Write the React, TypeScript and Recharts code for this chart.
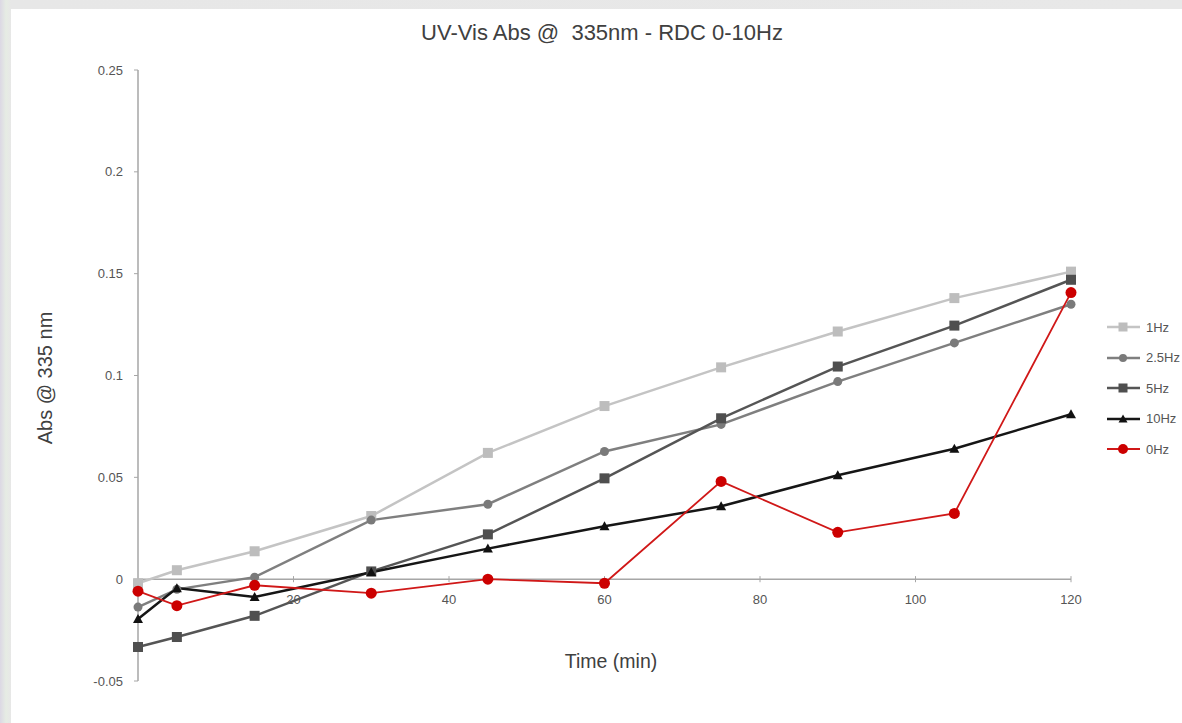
import React from "react";
import { LineChart, Line, XAxis, YAxis, ReferenceLine } from "recharts";

// sampling times (min)
const TIMES = [0, 5, 15, 30, 45, 60, 75, 90, 105, 120];

// absorbance at 335 nm for each stirring frequency
const HZ1 = [-0.002, 0.0044, 0.0137, 0.031, 0.062, 0.085, 0.104, 0.1216, 0.138, 0.151];
const HZ2_5 = [-0.0137, -0.005, 0.001, 0.029, 0.0368, 0.0627, 0.076, 0.097, 0.116, 0.135];
const HZ5 = [-0.0333, -0.0284, -0.018, 0.0038, 0.022, 0.0495, 0.079, 0.1044, 0.1245, 0.147];
const HZ10 = [-0.0196, -0.0044, -0.0088, 0.0034, 0.015, 0.026, 0.0358, 0.051, 0.064, 0.081];
const HZ0 = [-0.0059, -0.013, -0.003, -0.0069, 0, -0.002, 0.048, 0.023, 0.0323, 0.1407];

const X_TICKS = [20, 40, 60, 80, 100, 120];
const Y_TICKS = [-0.05, 0, 0.05, 0.1, 0.15, 0.2, 0.25];

const data = TIMES.map((t, i) => ({
  t,
  hz1: HZ1[i],
  hz25: HZ2_5[i],
  hz5: HZ5[i],
  hz10: HZ10[i],
  hz0: HZ0[i],
}));

type Shape = "square" | "circle" | "triangle";

const SERIES: { key: string; name: string; color: string; marker: string; shape: Shape; size: number; width: number }[] = [
  { key: "hz1", name: "1Hz", color: "#c4c4c4", marker: "#bdbdbd", shape: "square", size: 10, width: 2.5 },
  { key: "hz25", name: "2.5Hz", color: "#7f7f7f", marker: "#7a7a7a", shape: "circle", size: 9, width: 2.5 },
  { key: "hz5", name: "5Hz", color: "#555555", marker: "#4f4f4f", shape: "square", size: 10, width: 2.5 },
  { key: "hz10", name: "10Hz", color: "#161616", marker: "#111111", shape: "triangle", size: 10, width: 2.5 },
  { key: "hz0", name: "0Hz", color: "#d01818", marker: "#cc0000", shape: "circle", size: 11, width: 1.8 },
];

const FONT = "'Liberation Sans', Arial, sans-serif";

function drawMarker(shape: Shape, cx: number, cy: number, size: number, fill: string, key?: string) {
  const h = size / 2;
  if (shape === "square") return <rect key={key} x={cx - h} y={cy - h} width={size} height={size} fill={fill} />;
  if (shape === "circle") return <circle key={key} cx={cx} cy={cy} r={h} fill={fill} />;
  return <polygon key={key} points={`${cx},${cy - h} ${cx + h},${cy + h * 0.8} ${cx - h},${cy + h * 0.8}`} fill={fill} />;
}

function makeDot(s: (typeof SERIES)[number]) {
  return (p: any) => drawMarker(s.shape, p.cx, p.cy, s.size, s.marker, `${s.key}-${p.index}`);
}

export default function App() {
  return (
    <div
      style={{
        position: "absolute",
        left: 0,
        top: 0,
        width: 1182,
        height: 723,
        overflow: "hidden",
        background: "linear-gradient(90deg, #dcd8e4 0px, #e6ece4 6px, #e7e7e7 11px, #e8e8e8 100%)",
        fontFamily: FONT,
      }}
    >
      {/* white slide panel */}
      <div style={{ position: "absolute", left: 11, top: 9, right: 0, bottom: 0, background: "#ffffff" }} />

      <div
        style={{
          position: "absolute",
          left: 602,
          top: 33,
          transform: "translate(-50%, -50%)",
          whiteSpace: "pre",
          fontSize: 22,
          color: "#404040",
        }}
      >
        {"UV-Vis Abs @  335nm - RDC 0-10Hz"}
      </div>

      <div
        style={{
          position: "absolute",
          left: 45,
          top: 378,
          transform: "translate(-50%, -50%) rotate(-90deg)",
          whiteSpace: "nowrap",
          fontSize: 20,
          color: "#404040",
        }}
      >
        Abs @ 335 nm
      </div>

      <div
        style={{
          position: "absolute",
          left: 611,
          top: 661,
          transform: "translate(-50%, -50%)",
          whiteSpace: "nowrap",
          fontSize: 19.5,
          color: "#404040",
        }}
      >
        Time (min)
      </div>

      <LineChart
        width={1182}
        height={723}
        data={data}
        margin={{ top: 70, right: 111, bottom: 42, left: 78 }}
        style={{ position: "absolute", left: 0, top: 0 }}
      >
        <XAxis type="number" dataKey="t" domain={[0, 120]} hide />
        <YAxis
          type="number"
          domain={[-0.05, 0.25]}
          ticks={Y_TICKS}
          width={60}
          tickFormatter={(v: number) => String(v)}
          tick={{ fontSize: 13, fill: "#555555", fontFamily: FONT }}
          tickSize={4}
          tickMargin={11}
          axisLine={{ stroke: "#a6a6a6", strokeWidth: 1.5 }}
          tickLine={{ stroke: "#a6a6a6" }}
        />
        <ReferenceLine y={0} stroke="#a6a6a6" strokeWidth={1.5} />
        {X_TICKS.map((t) => (
          <ReferenceLine
            key={t}
            segment={[{ x: t, y: 0.0015 }, { x: t, y: -0.0015 }]}
            stroke="#a6a6a6"
            label={{ value: String(t), position: "bottom", offset: 13, fontSize: 13, fill: "#555555", fontFamily: FONT }}
          />
        ))}
        {SERIES.map((s) => (
          <Line
            key={s.key}
            type="linear"
            dataKey={s.key}
            name={s.name}
            stroke={s.color}
            strokeWidth={s.width}
            dot={makeDot(s)}
            activeDot={false}
            isAnimationActive={false}
          />
        ))}
      </LineChart>

      {/* legend */}
      <div style={{ position: "absolute", left: 1106, top: 312 }}>
        {SERIES.map((s) => (
          <div key={s.key} style={{ display: "flex", alignItems: "center", height: 30.5 }}>
            <svg width={36} height={14}>
              <line x1={1} y1={7} x2={34} y2={7} stroke={s.color} strokeWidth={s.width} />
              {drawMarker(s.shape, 17, 7, s.size - 1, s.marker)}
            </svg>
            <span style={{ fontSize: 13, color: "#555555", marginLeft: 4, whiteSpace: "nowrap" }}>{s.name}</span>
          </div>
        ))}
      </div>
    </div>
  );
}
